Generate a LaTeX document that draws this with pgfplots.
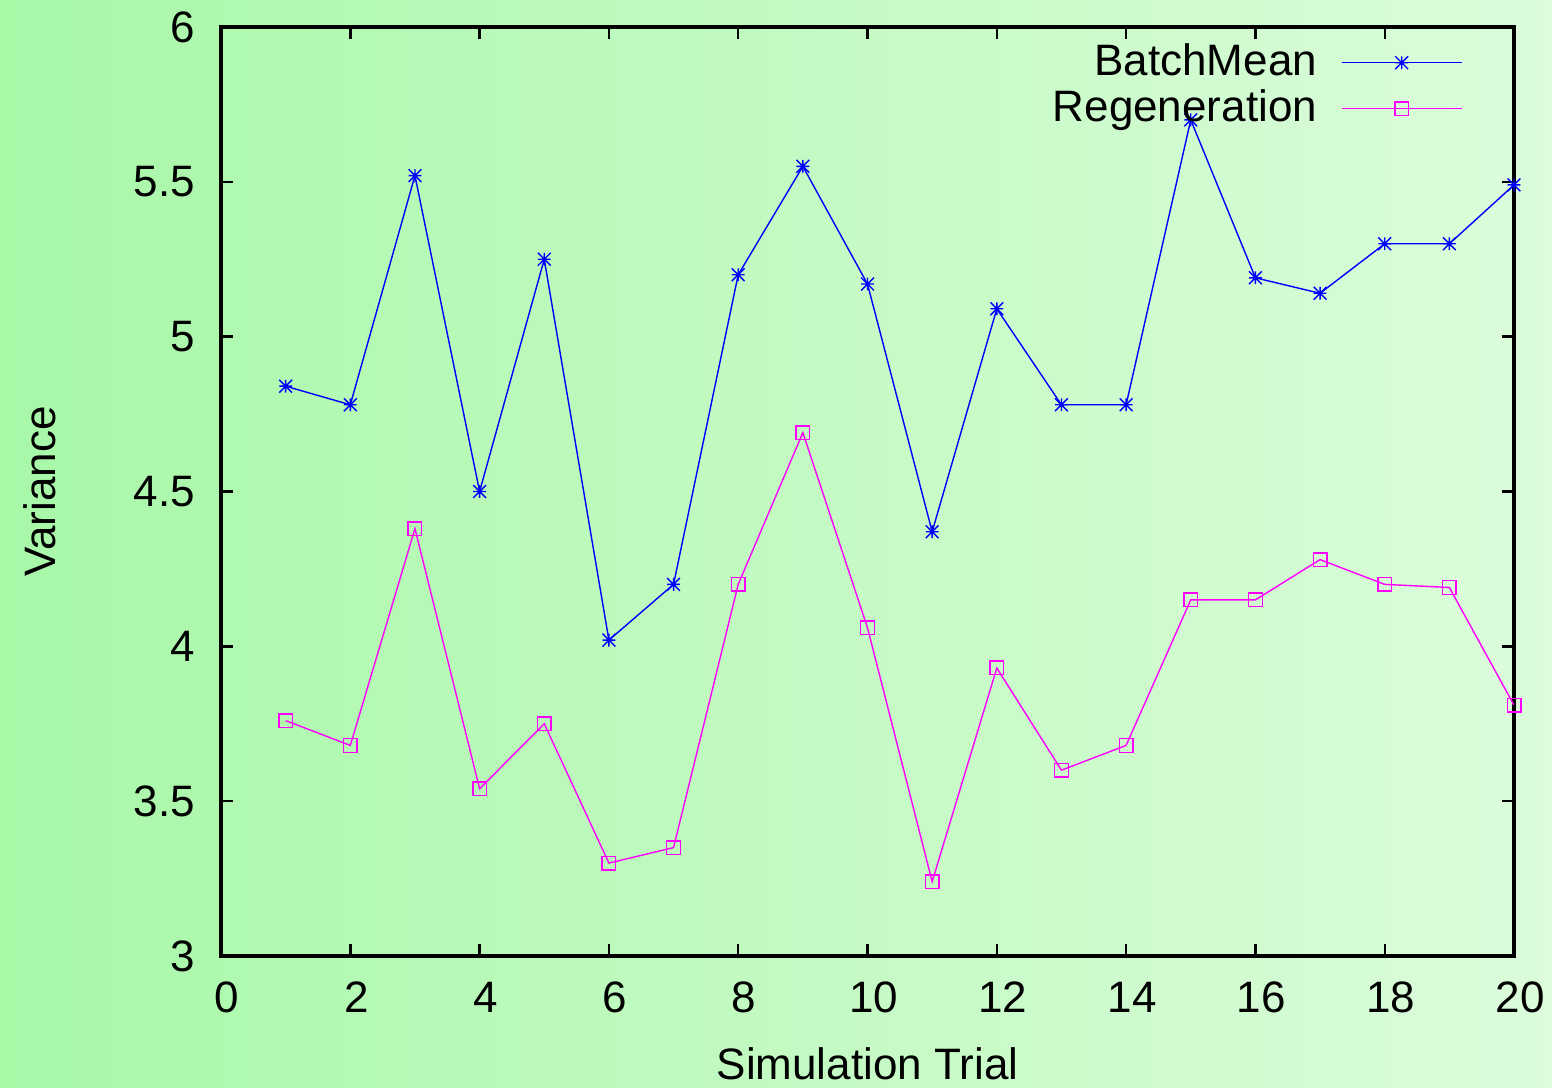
\documentclass[border=0pt]{standalone}
\usepackage{pgfplots}
\pgfplotsset{compat=1.18}
\usepackage{fontspec}
\setmainfont{Liberation Sans}
\definecolor{bgL}{HTML}{A8F8A8}
\definecolor{bgR}{HTML}{DCFCDC}
\definecolor{gpmag}{RGB}{255,0,255}
\definecolor{gpblue}{RGB}{0,0,255}
\pgfdeclareplotmark{gpstar}{%
 \pgfpathmoveto{\pgfqpoint{-\pgfplotmarksize}{0pt}}\pgfpathlineto{\pgfqpoint{\pgfplotmarksize}{0pt}}%
 \pgfpathmoveto{\pgfqpoint{0pt}{-\pgfplotmarksize}}\pgfpathlineto{\pgfqpoint{0pt}{\pgfplotmarksize}}%
 \pgfpathmoveto{\pgfqpoint{-\pgfplotmarksize}{-\pgfplotmarksize}}\pgfpathlineto{\pgfqpoint{\pgfplotmarksize}{\pgfplotmarksize}}%
 \pgfpathmoveto{\pgfqpoint{-\pgfplotmarksize}{\pgfplotmarksize}}\pgfpathlineto{\pgfqpoint{\pgfplotmarksize}{-\pgfplotmarksize}}%
 \pgfusepathqstroke}
\begin{document}
\begin{tikzpicture}
\shade[left color=bgL, right color=bgR] (0,0) rectangle (388pt,272pt);
\begin{axis}[
  at={(55.25pt,33pt)}, anchor=south west,
  scale only axis, width=323.25pt, height=232.25pt,
  xmin=0, xmax=20, ymin=3, ymax=6,
  xtick={0,2,...,20}, ytick={3,3.5,...,6},
  tick align=inside, major tick length=3pt,
  axis line style={line width=0.8pt},
  every tick/.style={black, line width=0.6pt},
  font=\fontsize{11}{13}\selectfont,
  /pgf/number format/assume math mode=true,
  yticklabel style={/pgf/number format/fixed, xshift=-3pt},
  xticklabel style={yshift=-3pt, xshift=1.5pt},
  xlabel={Simulation Trial}, ylabel={Variance},
  xlabel style={at={(axis description cs:0.5,0)}, anchor=base, yshift=-31pt},
  ylabel style={at={(axis description cs:-0.14,0.5)}, anchor=center, rotate=0},
  legend style={at={(rel axis cs:0.970,1.0)}, anchor=north east, draw=none, fill=none,
    row sep=-2pt, font=\fontsize{11}{13}\selectfont},
  legend cell align=right, legend plot pos=right,
  legend image code/.code={\path (0pt,0pt); \draw[#1, mark repeat=2, mark phase=2] plot coordinates {(4pt,0pt) (19pt,0pt) (34pt,0pt)};},
]
\addplot[gpblue, line width=0.35pt, mark=gpstar, mark size=1.6pt] coordinates {
(1,4.84) (2,4.78) (3,5.52) (4,4.50) (5,5.25) (6,4.02) (7,4.20) (8,5.20) (9,5.55) (10,5.17)
(11,4.37) (12,5.09) (13,4.78) (14,4.78) (15,5.70) (16,5.19) (17,5.14) (18,5.30) (19,5.30) (20,5.49)};
\addlegendentry{BatchMean}
\addplot[gpmag, line width=0.35pt, mark=square, mark size=1.7pt] coordinates {
(1,3.76) (2,3.68) (3,4.38) (4,3.54) (5,3.75) (6,3.30) (7,3.35) (8,4.20) (9,4.69) (10,4.06)
(11,3.24) (12,3.93) (13,3.60) (14,3.68) (15,4.15) (16,4.15) (17,4.28) (18,4.20) (19,4.19) (20,3.81)};
\addlegendentry{Regeneration}
\end{axis}
\pgfresetboundingbox
\useasboundingbox (0,0) rectangle (388pt,272pt);
\end{tikzpicture}
\end{document}
